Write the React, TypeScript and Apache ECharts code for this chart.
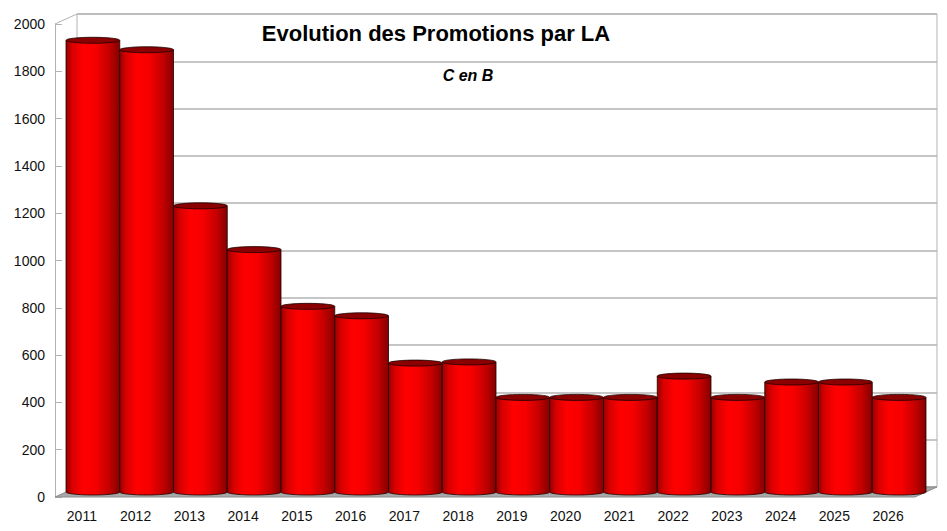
import React from 'react';
import * as echarts from 'echarts';

const years = ['2011', '2012', '2013', '2014', '2015', '2016', '2017', '2018', '2019', '2020', '2021', '2022', '2023', '2024', '2025', '2026'];
const promotions = [1910, 1870, 1210, 1025, 785, 745, 545, 550, 400, 400, 400, 490, 400, 465, 465, 400];
const yTicks = { min: 0, max: 2000, interval: 200 };

const titleText = 'Evolution des Promotions par LA';
const subtitleText = 'C en B';

// 3D-ish layout: front plane (labels), mid plane (bars), back wall (grid lines)
const FRONT = { left: 55, right: 32, top: 24, bottom: 34 };
const MID = { left: 66, right: 21, top: 19, bottom: 39 };
const BACK = { left: 77, right: 10, top: 14, bottom: 44 };
const W = 947;
const H = 531;

const bodyGradient = () =>
  new echarts.graphic.LinearGradient(0, 0, 1, 0, [
    { offset: 0, color: '#9a0000' },
    { offset: 0.12, color: '#d80000' },
    { offset: 0.32, color: '#ff0000' },
    { offset: 0.55, color: '#f60000' },
    { offset: 0.8, color: '#c40000' },
    { offset: 1, color: '#850000' },
  ]);

export default function App() {
  const chartRef = React.useRef<HTMLDivElement>(null);

  React.useEffect(() => {
    if (!chartRef.current) return;
    document.body.style.margin = '0';
    const chart = echarts.init(chartRef.current, undefined, { renderer: 'svg' });

    const labelFont = { fontFamily: 'Liberation Sans', fontSize: 14, color: '#111' };

    const option: echarts.EChartsOption = {
      animation: false,
      backgroundColor: '#fff',
      title: [
        {
          text: titleText,
          left: 431,
          top: 17,
          textAlign: 'center',
          textStyle: { fontFamily: 'Liberation Sans', fontSize: 22, fontWeight: 'bold', color: '#000' },
        },
        {
          text: subtitleText,
          left: 463,
          top: 62,
          textAlign: 'center',
          textStyle: { fontFamily: 'Liberation Sans', fontSize: 16, fontWeight: 'bold', fontStyle: 'italic', color: '#000' },
        },
      ],
      grid: [
        { ...FRONT, containLabel: false },
        { ...MID, containLabel: false },
        { ...BACK, containLabel: false, show: true, borderColor: '#b3b3b3', borderWidth: 1 },
      ],
      xAxis: [
        {
          type: 'category',
          gridIndex: 0,
          data: years,
          axisLine: { show: false },
          axisTick: { show: false },
          axisLabel: { ...labelFont, margin: 12 },
        },
        { type: 'category', gridIndex: 1, data: years, show: false },
        { type: 'category', gridIndex: 2, data: years, show: false },
      ],
      yAxis: [
        {
          type: 'value',
          gridIndex: 0,
          ...yTicks,
          axisLine: { show: true, lineStyle: { color: '#b3b3b3' } },
          axisTick: { show: true, inside: true, length: 7, lineStyle: { color: '#b3b3b3' } },
          axisLabel: { ...labelFont, margin: 10, formatter: (v: number) => String(v) },
          splitLine: { show: false },
        },
        { type: 'value', gridIndex: 1, ...yTicks, show: false },
        {
          type: 'value',
          gridIndex: 2,
          ...yTicks,
          axisLine: { show: false },
          axisTick: { show: false },
          axisLabel: { show: false },
          splitLine: { show: true, lineStyle: { color: '#b3b3b3', width: 1.5 } },
        },
      ],
      graphic: [
        {
          type: 'polygon',
          z: 1,
          shape: {
            points: [
              [FRONT.left, H - FRONT.bottom],
              [BACK.left, H - BACK.bottom],
              [W - BACK.right, H - BACK.bottom],
              [W - FRONT.right, H - FRONT.bottom],
            ],
          },
          style: { fill: '#a8a8a8', stroke: '#8c8c8c', lineWidth: 1 },
        },
        {
          type: 'line',
          z: 1,
          shape: { x1: FRONT.left, y1: FRONT.top, x2: BACK.left, y2: BACK.top },
          style: { stroke: '#b3b3b3', lineWidth: 1 },
        },
      ],
      series: [
        {
          type: 'custom',
          xAxisIndex: 1,
          yAxisIndex: 1,
          z: 3,
          data: promotions.map((v, i) => [i, v]),
          renderItem: (params: any, api: any) => {
            const top = api.coord([api.value(0), api.value(1)]);
            const base = api.coord([api.value(0), 0]);
            const w = api.size([1, 0])[0];
            const x0 = top[0] - w / 2;
            const ry = 3;
            return {
              type: 'group',
              children: [
                {
                  type: 'ellipse',
                  shape: { cx: top[0], cy: base[1], rx: w / 2, ry },
                  style: { fill: bodyGradient(), stroke: '#1a0000', lineWidth: 0.8 },
                },
                {
                  type: 'rect',
                  shape: { x: x0, y: top[1], width: w, height: base[1] - top[1] },
                  style: { fill: bodyGradient() },
                },
                {
                  type: 'line',
                  shape: { x1: x0, y1: top[1], x2: x0, y2: base[1] },
                  style: { stroke: '#1a0000', lineWidth: 0.8 },
                },
                {
                  type: 'line',
                  shape: { x1: x0 + w, y1: top[1], x2: x0 + w, y2: base[1] },
                  style: { stroke: '#1a0000', lineWidth: 0.8 },
                },
                {
                  type: 'ellipse',
                  shape: { cx: top[0], cy: top[1], rx: w / 2, ry },
                  style: { fill: '#8a0000', stroke: '#1a0000', lineWidth: 0.8 },
                },
              ],
            };
          },
        },
      ],
    };

    chart.setOption(option);
    return () => {
      chart.dispose();
    };
  }, []);

  return <div ref={chartRef} style={{ width: W, height: H }} />;
}
